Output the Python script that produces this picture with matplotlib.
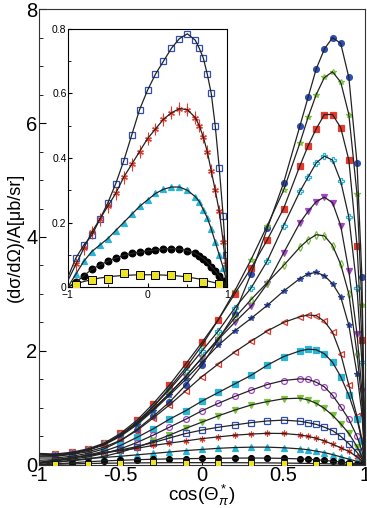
import matplotlib

matplotlib.use("Agg")
import matplotlib.pyplot as plt
from matplotlib.ticker import MultipleLocator

plt.rcParams["font.family"] = ["Liberation Sans", "DejaVu Sans"]
plt.rcParams["mathtext.fontset"] = "custom"
plt.rcParams["mathtext.rm"] = "Liberation Sans"
plt.rcParams["mathtext.it"] = "Liberation Sans:italic"

# cos(theta) grid on which the curves were read
X_GRID = [-1.0, -0.9, -0.8, -0.7, -0.6, -0.5, -0.4, -0.3, -0.2, -0.1, 0.0, 0.1, 0.2,
          0.3, 0.4, 0.5, 0.6, 0.65, 0.7, 0.75, 0.8, 0.85, 0.9, 0.95, 0.98, 1.0]

# high-statistics series (main panel), top to bottom
blue_circle = [0.12, 0.12, 0.15, 0.2, 0.28, 0.42, 0.62, 0.85, 1.1, 1.4, 1.75, 2.2, 2.65,
               3.35, 4.15, 4.95, 5.95, 6.45, 6.95, 7.3, 7.5, 7.4, 6.8, 5.3, 3.3, 0.0]
green_star = [0.18, 0.17, 0.2, 0.26, 0.36, 0.52, 0.74, 1.02, 1.35, 1.7, 2.1, 2.55, 3.05,
              3.6, 4.2, 4.82, 5.65, 6.1, 6.5, 6.8, 6.9, 6.72, 6.15, 4.75, 2.8, 0.0]
red_square = [0.2, 0.19, 0.22, 0.28, 0.38, 0.55, 0.78, 1.07, 1.4, 1.77, 2.15, 2.55, 3.0,
              3.45, 3.95, 4.5, 5.25, 5.6, 5.9, 6.15, 6.15, 5.92, 5.35, 3.85, 2.2, 0.0]
cyan_cross = [0.18, 0.17, 0.2, 0.26, 0.36, 0.52, 0.75, 1.02, 1.32, 1.65, 2.0, 2.35, 2.75,
              3.1, 3.58, 4.2, 4.8, 5.05, 5.3, 5.42, 5.35, 4.98, 4.35, 3.1, 1.8, 0.0]
purple_tri = [0.18, 0.17, 0.2, 0.26, 0.36, 0.52, 0.73, 0.98, 1.25, 1.55, 1.88, 2.2, 2.5,
              2.78, 3.18, 3.72, 4.25, 4.45, 4.62, 4.7, 4.6, 4.2, 3.4, 2.3, 1.3, 0.0]
green_diamond = [0.18, 0.17, 0.2, 0.26, 0.36, 0.52, 0.72, 0.97, 1.25, 1.55, 1.88, 2.22, 2.58,
                 2.9, 3.2, 3.5, 3.82, 3.95, 4.04, 4.02, 3.85, 3.52, 3.0, 1.95, 1.1, 0.0]
blue_star = [0.18, 0.17, 0.2, 0.26, 0.35, 0.5, 0.7, 0.95, 1.22, 1.5, 1.8, 2.1, 2.35,
             2.57, 2.8, 3.05, 3.27, 3.35, 3.38, 3.32, 3.18, 2.95, 2.45, 1.6, 0.9, 0.0]
red_tri = [0.15, 0.15, 0.18, 0.23, 0.31, 0.43, 0.6, 0.82, 1.05, 1.3, 1.55, 1.77, 1.98,
           2.17, 2.35, 2.5, 2.6, 2.63, 2.62, 2.52, 2.33, 1.95, 1.4, 0.85, 0.45, 0.0]
cyan_square = [0.08, 0.09, 0.12, 0.17, 0.24, 0.34, 0.48, 0.63, 0.8, 0.95, 1.12, 1.27, 1.42,
               1.57, 1.75, 1.9, 2.0, 2.03, 2.02, 1.95, 1.8, 1.55, 1.22, 0.8, 0.42, 0.0]
purple_circle = [0.05, 0.07, 0.1, 0.14, 0.2, 0.28, 0.39, 0.52, 0.66, 0.8, 0.95, 1.08, 1.2,
                 1.31, 1.41, 1.48, 1.51, 1.5, 1.45, 1.37, 1.22, 1.02, 0.8, 0.5, 0.25, 0.0]
green_tri = [0.03, 0.05, 0.07, 0.1, 0.15, 0.22, 0.31, 0.41, 0.52, 0.64, 0.75, 0.86, 0.96,
             1.05, 1.11, 1.16, 1.17, 1.14, 1.08, 0.99, 0.87, 0.72, 0.55, 0.32, 0.15, 0.0]

# low series (also shown in the inset)
blue_open_square = [0.03, 0.09, 0.13, 0.16, 0.21, 0.26, 0.32, 0.39, 0.47, 0.55, 0.61, 0.66, 0.7,
                    0.74, 0.77, 0.785, 0.765, 0.74, 0.71, 0.66, 0.6, 0.5, 0.37, 0.22, 0.1, 0.0]
red_asterisk = [0.02, 0.07, 0.12, 0.17, 0.21, 0.25, 0.29, 0.34, 0.38, 0.42, 0.46, 0.49, 0.52,
                0.54, 0.553, 0.55, 0.525, 0.5, 0.465, 0.42, 0.36, 0.3, 0.235, 0.14, 0.07, 0.0]
cyan_tri = [0.0, 0.04, 0.08, 0.11, 0.13, 0.15, 0.175, 0.2, 0.225, 0.25, 0.27, 0.29, 0.303,
            0.31, 0.31, 0.3, 0.28, 0.265, 0.24, 0.215, 0.18, 0.14, 0.1, 0.06, 0.03, 0.0]
black_circle = [0.0, 0.015, 0.035, 0.055, 0.068, 0.08, 0.09, 0.098, 0.104, 0.108, 0.112, 0.115, 0.118,
                0.119, 0.118, 0.113, 0.104, 0.097, 0.088, 0.077, 0.063, 0.05, 0.035, 0.018, 0.008, 0.0]
yellow_fit = [0.0, 0.01, 0.017, 0.023, 0.028, 0.031, 0.034, 0.036, 0.037, 0.038, 0.038, 0.038, 0.037,
              0.036, 0.034, 0.031, 0.027, 0.025, 0.022, 0.019, 0.016, 0.013, 0.009, 0.005, 0.002, 0.0]
yellow_x = [-0.9, -0.7, -0.5, -0.3, -0.1, 0.1, 0.3, 0.5, 0.7, 0.9]
yellow_pts = [0.006, 0.022, 0.025, 0.045, 0.038, 0.038, 0.038, 0.03, 0.016, 0.01]
red_err = 0.02

BLUE = "#2f4fb5"
GREEN = "#7cc23e"
RED = "#e5392b"
CYAN = "#29b6d6"
PURPLE = "#a546c6"
YELLOW = "#ece22a"

# (values, color, marker, filled)
MAIN_SERIES = [
    (blue_circle, BLUE, "o", True),
    (green_star, GREEN, "*", False),
    (red_square, RED, "s", True),
    (cyan_cross, CYAN, "P", False),
    (purple_tri, PURPLE, "v", True),
    (green_diamond, GREEN, "d", False),
    (blue_star, BLUE, "*", True),
    (red_tri, RED, "<", False),
    (cyan_square, CYAN, "s", True),
    (purple_circle, PURPLE, "o", False),
    (green_tri, GREEN, "v", True),
    (blue_open_square, BLUE, "s", False),
    (red_asterisk, RED, (6, 2, 0), True),
    (cyan_tri, CYAN, "^", True),
    (black_circle, "black", "o", True),
]
INSET_SERIES = MAIN_SERIES[-4:]


def _draw_series(ax, series, ms):
    for values, color, marker, filled in series:
        face = color if filled else "none"
        ax.plot(X_GRID[1:-1], values[1:-1], linestyle="none", marker=marker, ms=ms,
                mfc=face, mec=color, mew=0.9, zorder=2)
        ax.plot(X_GRID, values, color="#222222", linewidth=0.9, zorder=3)
    ax.plot(X_GRID, yellow_fit, color="#222222", linewidth=0.9, zorder=3)


fig = plt.figure(figsize=(3.67, 5.08), dpi=100)
ax = fig.add_axes([0.106, 0.085, 0.889, 0.897])
_draw_series(ax, MAIN_SERIES, 4.2)
ax.plot(yellow_x, yellow_pts, linestyle="none", marker="s", ms=4.2, mfc=YELLOW, mec="black",
        mew=0.6, zorder=4)
ax.set_xlim(-1, 1)
ax.set_ylim(0, 8)
ax.set_xticks([-1, -0.5, 0, 0.5, 1])
ax.set_xticklabels(["-1", "-0.5", "0", "0.5", "1"])
ax.set_yticks([0, 2, 4, 6, 8])
ax.yaxis.set_minor_locator(MultipleLocator(0.5))
ax.tick_params(direction="in", labelsize=14.5, length=5, top=False, right=False)
ax.tick_params(axis="y", pad=1)
ax.tick_params(axis="x", pad=0.5)
ax.tick_params(which="minor", direction="in", length=3)
for spine in ax.spines.values():
    spine.set_linewidth(0.8)
    spine.set_color("#333333")
ax.set_xlabel(r"cos($\Theta_\pi^*$)", fontsize=13.5)
ax.xaxis.set_label_coords(0.5, -0.04, transform=ax.transAxes)
ax.xaxis.label.set_va("top")
ax.set_ylabel("(dσ/dΩ)/A[μb/sr]", fontsize=13, labelpad=2)

inset = fig.add_axes([0.185, 0.435, 0.434, 0.508])
_draw_series(inset, INSET_SERIES, 4.8)
inset.errorbar(X_GRID[1:-1], red_asterisk[1:-1], yerr=red_err, fmt="none", ecolor=RED,
               elinewidth=0.8, zorder=2)
inset.plot(yellow_x, yellow_pts, linestyle="none", marker="s", ms=5.8, mfc=YELLOW, mec="black",
           mew=0.7, zorder=4)
inset.set_xlim(-1, 1)
inset.set_ylim(0, 0.8)
inset.set_xticks([-1, 0, 1])
inset.set_yticks([0, 0.2, 0.4, 0.6, 0.8])
inset.set_yticklabels(["0", "0.2", "0.4", "0.6", "0.8"])
inset.yaxis.set_minor_locator(MultipleLocator(0.1))
inset.xaxis.set_minor_locator(MultipleLocator(0.5))
inset.tick_params(direction="in", labelsize=7.5, length=3, pad=1)
inset.tick_params(axis="x", pad=2.5)
inset.tick_params(which="minor", direction="in", length=2)
for spine in inset.spines.values():
    spine.set_linewidth(0.8)

fig.savefig("out.png", dpi=100)
